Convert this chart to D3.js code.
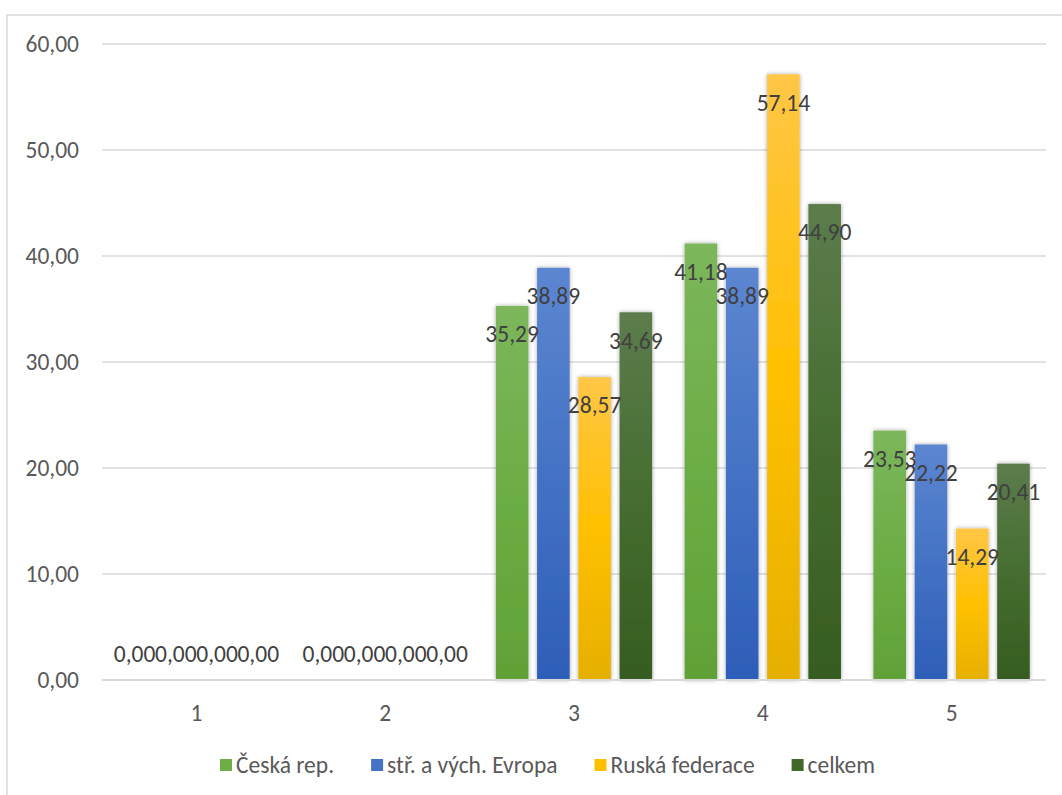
<!DOCTYPE html>
<html>
<head>
<meta charset="utf-8">
<script src="https://cdn.jsdelivr.net/npm/d3@7"></script>
<style>
  html, body { margin: 0; padding: 0; background: #ffffff; }
  svg { display: block; }
  text { font-family: Calibri, Carlito, Lato, "Open Sans", sans-serif; }
</style>
</head>
<body>
<svg id="chart" width="1062" height="795"></svg>
<script>
const categories = ["1", "2", "3", "4", "5"];
const seriesNames = ["Česká rep.", "stř. a vých. Evropa", "Ruská federace", "celkem"];
const ceskaRep = [0, 0, 35.29, 41.18, 23.53];
const strVychEvropa = [0, 0, 38.89, 38.89, 22.22];
const ruskaFederace = [0, 0, 28.57, 57.14, 14.29];
const celkem = [0, 0, 34.69, 44.90, 20.41];
const yTicks = [0, 10, 20, 30, 40, 50, 60];

const seriesValues = [ceskaRep, strVychEvropa, ruskaFederace, celkem];
const seriesGradients = [
  ["#7cb75c", "#6cad45", "#60a138"],
  ["#5c86d1", "#4472c4", "#2e5eb8"],
  ["#ffc646", "#ffc000", "#e6b000"],
  ["#5c7c4d", "#466d30", "#365c20"]
];
const legendSwatch = ["#70ad47", "#4472c4", "#ffc000", "#43682b"];

const svg = d3.select("#chart");
const W = 1062, H = 795;
const plot = { left: 102, right: 1046, top: 44, bottom: 680 };
const FS = 23.5;

const fmt = v => d3.format(".2f")(v).replace(".", ",");

// chart border (left & top visible)
svg.append("rect").attr("x", 7).attr("y", 15).attr("width", W + 20).attr("height", H + 20)
  .attr("fill", "#ffffff").attr("stroke", "#d9d9d9").attr("stroke-width", 1.5);

const defs = svg.append("defs");
seriesGradients.forEach((g, i) => {
  const lg = defs.append("linearGradient").attr("id", "grad" + i)
    .attr("x1", 0).attr("y1", 0).attr("x2", 0).attr("y2", 1);
  lg.append("stop").attr("offset", "0%").attr("stop-color", g[0]);
  lg.append("stop").attr("offset", "50%").attr("stop-color", g[1]);
  lg.append("stop").attr("offset", "100%").attr("stop-color", g[2]);
});
const f = defs.append("filter").attr("id", "shadow")
  .attr("x", "-30%").attr("y", "-10%").attr("width", "160%").attr("height", "120%");
f.append("feDropShadow").attr("dx", 0).attr("dy", 0).attr("stdDeviation", 2.2)
  .attr("flood-color", "#000000").attr("flood-opacity", 0.35);

const y = d3.scaleLinear().domain([0, 60]).range([plot.bottom, plot.top]);
const x0 = d3.scaleBand().domain(categories).range([plot.left, plot.right]).padding(0);
const outer = x0.bandwidth() * 0.086;
const x1 = d3.scaleBand().domain(d3.range(seriesNames.length))
  .range([outer, x0.bandwidth() - outer]).paddingInner(0.21).paddingOuter(0);

// gridlines
svg.append("g").selectAll("line").data(yTicks.filter(t => t > 0)).join("line")
  .attr("x1", plot.left).attr("x2", plot.right)
  .attr("y1", d => y(d)).attr("y2", d => y(d))
  .attr("stroke", "#d9d9d9").attr("stroke-width", 1.3);

// y tick labels
svg.append("g").selectAll("text").data(yTicks).join("text")
  .attr("x", 79).attr("y", d => y(d)).attr("dy", "0.35em")
  .attr("text-anchor", "end").attr("font-size", FS).attr("fill", "#595959")
  .text(d => fmt(d));

// bars
const groups = svg.append("g").selectAll("g").data(categories).join("g")
  .attr("transform", d => `translate(${x0(d)},0)`);

groups.selectAll("rect").data((c, ci) => seriesValues.map((s, si) => ({ si, v: s[ci] })))
  .join("rect")
  .filter(d => d.v > 0)
  .attr("x", d => x1(d.si)).attr("width", x1.bandwidth())
  .attr("y", d => y(d.v)).attr("height", d => y(0) - y(d.v))
  .attr("fill", d => `url(#grad${d.si})`)
  .attr("filter", "url(#shadow)");

// baseline
svg.append("line").attr("x1", plot.left).attr("x2", plot.right)
  .attr("y1", y(0)).attr("y2", y(0)).attr("stroke", "#d9d9d9").attr("stroke-width", 2);

// data labels
groups.selectAll("text.lbl").data((c, ci) => seriesValues.map((s, si) => ({ si, v: s[ci] })))
  .join("text").attr("class", "lbl")
  .attr("x", d => x1(d.si) + x1.bandwidth() / 2)
  .attr("y", d => d.v > 0 ? y(d.v) + 28 : y(0) - 26)
  .attr("dy", "0.35em").attr("text-anchor", "middle")
  .attr("font-size", FS).attr("fill", "#404040")
  .text(d => fmt(d.v));

// x labels
svg.append("g").selectAll("text").data(categories).join("text")
  .attr("x", d => x0(d) + x0.bandwidth() / 2).attr("y", 713).attr("dy", "0.35em")
  .attr("text-anchor", "middle").attr("font-size", FS).attr("fill", "#595959")
  .text(d => d);

// legend
const leg = svg.append("g");
const items = leg.selectAll("g").data(seriesNames).join("g");
items.append("rect").attr("width", 12).attr("height", 12).attr("y", -6)
  .attr("fill", (d, i) => legendSwatch[i]);
items.append("text").attr("x", 16).attr("dy", "0.35em").attr("font-size", FS)
  .attr("fill", "#595959").text(d => d);
let widths = [];
items.each(function () { widths.push(16 + this.querySelector("text").getComputedTextLength()); });
const gap = 37;
const total = d3.sum(widths) + gap * (widths.length - 1);
let cx = 547.5 - total / 2;
items.attr("transform", (d, i) => {
  const t = `translate(${cx},765)`;
  cx += widths[i] + gap;
  return t;
});
</script>
</body>
</html>
